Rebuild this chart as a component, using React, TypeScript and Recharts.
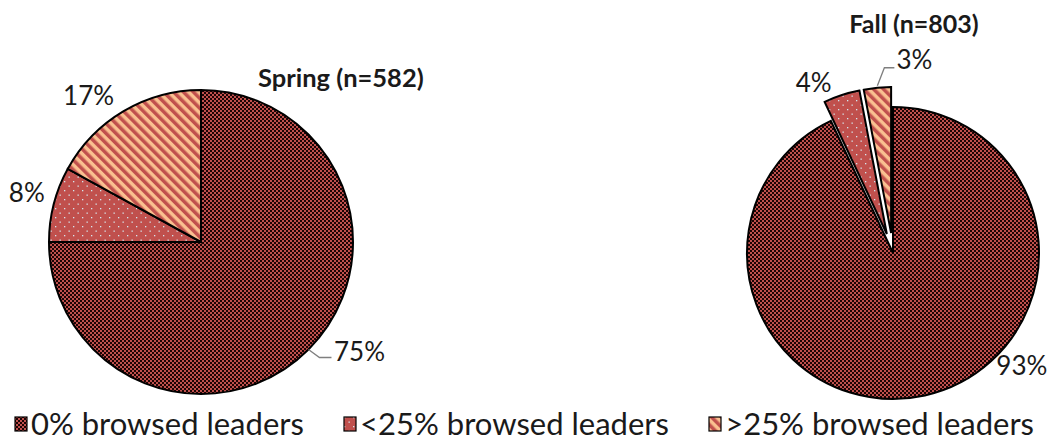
import { PieChart, Pie, Cell, Legend } from "recharts";

// data
const categories = ["0% browsed leaders", "<25% browsed leaders", ">25% browsed leaders"];
const springValues = [75, 8, 17];
const fallValues = [93, 4, 3];
const springTitle = "Spring (n=582)";
const fallTitle = "Fall (n=803)";

const patternIds = ["pat-none", "pat-low", "pat-high"];
const RADIAN = Math.PI / 180;
const FONT = "Lato, 'Open Sans', sans-serif";

const springData = categories.map((name, i) => ({ name, value: springValues[i] }));
const fallData = categories.map((name, i) => ({ name, value: fallValues[i] }));

// layout of each pie
const spring = { cx: 196, cy: 237, r: 152 };
const fall = { cx: 888, cy: 248, r: 146, explode: 20 };

// label offset from the slice's outer edge (text centre), leader lines where the original has them
const springLabelPos = [
  { dx: 51, dy: 2, leader: true },
  { dx: -27, dy: -12 },
  { dx: -35, dy: -16 },
];
const fallLabelPos = [
  { dx: 97, dy: -30 },
  { dx: -28, dy: -13 },
  { dx: 37, dy: -29, leader: true },
];

function midAngleOf(values: number[], k: number) {
  const total = values.reduce((a, b) => a + b, 0);
  const before = values.slice(0, k).reduce((a, b) => a + b, 0);
  return 90 - (360 * (before + values[k] / 2)) / total;
}

function makeLabel(pos: { dx: number; dy: number; leader?: boolean }[], only?: number) {
  return (props: any) => {
    const { cx, cy, midAngle, outerRadius, index, value } = props;
    if (only !== undefined && index !== only) return null;
    const ex = cx + outerRadius * Math.cos(-midAngle * RADIAN);
    const ey = cy + outerRadius * Math.sin(-midAngle * RADIAN);
    const p = pos[index];
    const tx = ex + p.dx;
    const ty = ey + p.dy;
    return (
      <g key={`lbl-${index}`}>
        {p.leader && (
          <polyline
            points={
              p.dy > 0
                ? `${ex},${ey} ${ex + 11},${ey + 8} ${ex + 23},${ey + 8}`
                : `${ex},${ey - 2} ${ex + 7},${ey - 20} ${ex + 17},${ey - 20}`
            }
            fill="none"
            stroke="#7f7f7f"
            strokeWidth={1.3}
          />
        )}
        <text
          x={tx}
          y={ty}
          textAnchor="middle"
          dominantBaseline="central"
          fontFamily={FONT}
          fontSize={26}
          fill="#1a1a1a"
        >
          {value}%
        </text>
      </g>
    );
  };
}

function Patterns() {
  return (
    <svg width={0} height={0} style={{ position: "absolute" }}>
      <defs>
        <pattern id="pat-none" width={4} height={4} patternUnits="userSpaceOnUse">
          <rect width={4} height={4} fill="#C0504D" />
          <rect width={2} height={2} fill="#1c0404" />
          <rect x={2} y={2} width={2} height={2} fill="#1c0404" />
        </pattern>
        <pattern id="pat-low" width={9} height={9} patternUnits="userSpaceOnUse">
          <rect width={9} height={9} fill="#C0504D" />
          <rect x={1} y={1} width={1.3} height={1.3} fill="#d6e6ee" />
          <rect x={5.5} y={5.5} width={1.3} height={1.3} fill="#d6e6ee" />
        </pattern>
        <pattern
          id="pat-high"
          width={7}
          height={7}
          patternUnits="userSpaceOnUse"
          patternTransform="rotate(-45)"
        >
          <rect width={7} height={7} fill="#FAC090" />
          <rect width={3.5} height={7} fill="#C0504D" />
        </pattern>
      </defs>
    </svg>
  );
}

function LegendContent() {
  return (
    <div
      style={{
        display: "flex",
        justifyContent: "space-between",
        padding: "0 16px 0 14px",
        fontFamily: FONT,
        fontSize: 31,
        lineHeight: "34px",
        color: "#1a1a1a",
      }}
    >
      {categories.map((c, i) => (
        <div key={c} style={{ display: "flex", alignItems: "center" }}>
          <svg width={14} height={16} style={{ marginRight: 3, marginTop: 2 }}>
            <rect x={1} y={1} width={12} height={14} fill={`url(#${patternIds[i]})`} stroke="#000" strokeWidth={1.2} />
          </svg>
          <span>{c}</span>
        </div>
      ))}
    </div>
  );
}

export default function App() {
  const fallExploded = [1, 2].map((k) => {
    const a = midAngleOf(fallValues, k) * RADIAN;
    return {
      k,
      cx: fall.cx + fall.explode * Math.cos(a),
      cy: fall.cy - fall.explode * Math.sin(a),
    };
  });

  return (
    <div style={{ position: "absolute", left: 0, top: 0, width: 1050, height: 440, background: "#fff" }}>
      <Patterns />
      <PieChart width={1050} height={440}>
        <Pie
          data={springData}
          dataKey="value"
          cx={spring.cx}
          cy={spring.cy}
          outerRadius={spring.r}
          startAngle={90}
          endAngle={-270}
          stroke="#000"
          strokeWidth={2}
          label={makeLabel(springLabelPos)}
          labelLine={false}
          isAnimationActive={false}
        >
          {springData.map((d, i) => (
            <Cell key={d.name} fill={`url(#${patternIds[i]})`} />
          ))}
        </Pie>
        <Pie
          data={fallData}
          dataKey="value"
          cx={fall.cx}
          cy={fall.cy}
          outerRadius={fall.r}
          startAngle={90}
          endAngle={-270}
          stroke="#000"
          strokeWidth={2}
          label={makeLabel(fallLabelPos, 0)}
          labelLine={false}
          isAnimationActive={false}
        >
          {fallData.map((d, i) => (
            <Cell
              key={d.name}
              fill={i === 0 ? `url(#${patternIds[i]})` : "none"}
              stroke={i === 0 ? "#000" : "none"}
            />
          ))}
        </Pie>
        {fallExploded.map((ex) => (
          <Pie
            key={`explode-${ex.k}`}
            data={fallData}
            dataKey="value"
            cx={ex.cx}
            cy={ex.cy}
            outerRadius={fall.r}
            startAngle={90}
            endAngle={-270}
            stroke="#000"
            strokeWidth={2}
            label={makeLabel(fallLabelPos, ex.k)}
            labelLine={false}
            isAnimationActive={false}
          >
            {fallData.map((d, i) => (
              <Cell
                key={d.name}
                fill={i === ex.k ? `url(#${patternIds[i]})` : "none"}
                stroke={i === ex.k ? "#000" : "none"}
              />
            ))}
          </Pie>
        ))}
        <text x={258} y={77} dominantBaseline="central" fontFamily={FONT} fontWeight={700} fontSize={25.5} fill="#1a1a1a">
          {springTitle}
        </text>
        <text x={914} y={23} textAnchor="middle" dominantBaseline="central" fontFamily={FONT} fontWeight={700} fontSize={25} fill="#1a1a1a">
          {fallTitle}
        </text>
        <Legend
          content={<LegendContent />}
          wrapperStyle={{ left: 0, top: 406, width: 1050, bottom: "auto" }}
        />
      </PieChart>
    </div>
  );
}
